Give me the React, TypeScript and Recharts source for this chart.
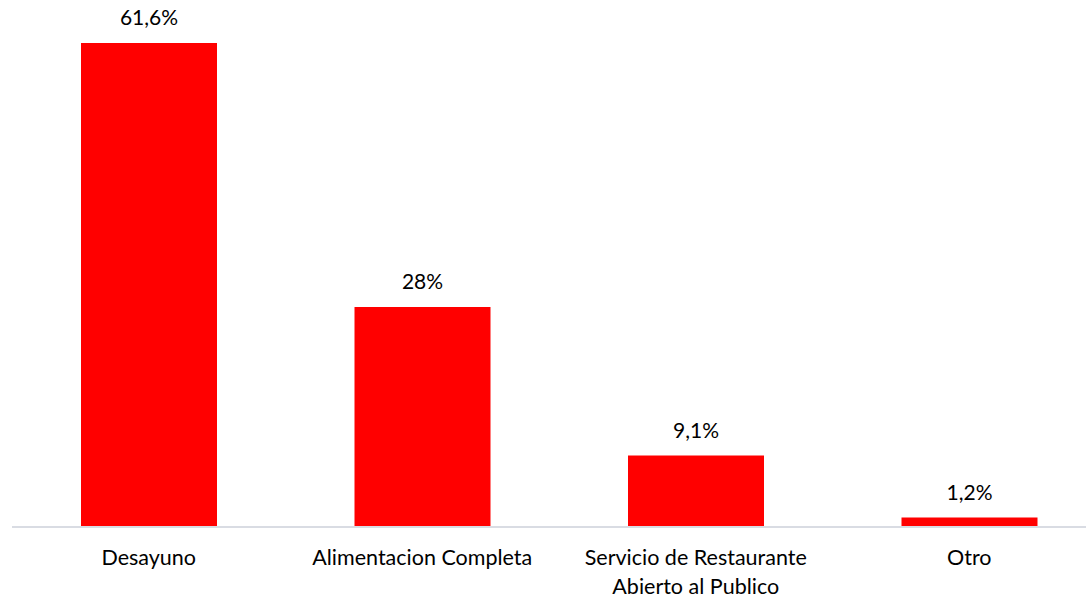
import { BarChart, Bar, XAxis, YAxis, LabelList } from "recharts";

const categories = [
  "Desayuno",
  "Alimentacion Completa",
  "Servicio de Restaurante\nAbierto al Publico",
  "Otro",
];
const shares = [61.6, 28, 9.1, 1.2];

const data = categories.map((name, i) => ({ name, value: shares[i] }));

const FONT = "Lato, 'Open Sans', sans-serif";

function CategoryTick(props: any) {
  const { x, payload } = props;
  const lines = String(payload.value).split("\n");
  // anchor to the axis line, not recharts' padded tick y
  const base = 527;
  return (
    <text
      x={x}
      y={base}
      textAnchor="middle"
      fontFamily={FONT}
      fontSize={21.5}
      fill="#000"
    >
      {lines.map((line, i) => (
        <tspan key={i} x={x} dy={i === 0 ? 38 : 29}>
          {line}
        </tspan>
      ))}
    </text>
  );
}

const formatPct = (v: any) => `${String(v).replace(".", ",")}%`;

export default function App() {
  return (
    <div
      style={{
        position: "absolute",
        left: 0,
        top: 0,
        width: 1086,
        height: 600,
        overflow: "hidden",
        background: "#fff",
      }}
    >
      <BarChart
        width={1106}
        height={600}
        data={data}
        margin={{ top: 43, right: 0, bottom: 0, left: 12 }}
      >
        <XAxis
          dataKey="name"
          height={73}
          axisLine={{ stroke: "#d9dce3", strokeWidth: 2 }}
          tickLine={false}
          tick={<CategoryTick />}
          interval={0}
        />
        <YAxis hide domain={[0, 61.6]} />
        <Bar dataKey="value" fill="#ff0000" barSize={136} isAnimationActive={false}>
          <LabelList
            dataKey="value"
            position="top"
            offset={18}
            formatter={formatPct}
            style={{ fontFamily: FONT, fontSize: 21, fill: "#000" }}
          />
        </Bar>
      </BarChart>
    </div>
  );
}
